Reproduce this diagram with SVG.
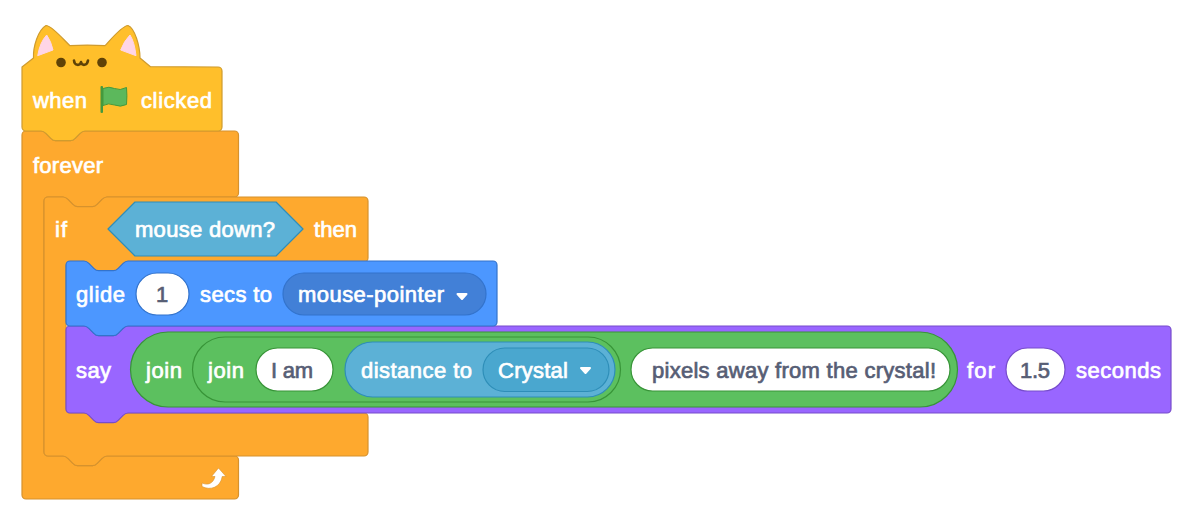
<svg xmlns="http://www.w3.org/2000/svg" width="1194" height="518" viewBox="0 0 1194 518">
<style>
text{font-family:"Liberation Sans",Arial,sans-serif;font-size:22px;fill:#fff;stroke:#fff;stroke-width:.7px;paint-order:stroke}
text.d{fill:#575e75;stroke:#575e75}
.c{fill:#fea92e;stroke:#d6922d}
.w{fill:#fff}
path,rect,polygon{stroke-width:1.2;stroke-linejoin:round}
.car{fill:#fff;stroke:#fff;stroke-width:2}
.mouth{fill:none;stroke:#5f4207;stroke-width:2.6;stroke-linecap:round}
.ear{fill:#ffd5e6;stroke:#ffd5e6;stroke-width:1}
.flag{fill:#5cb85c;stroke:#45993d;stroke-width:1}
.arrow{fill:#fff;stroke:#d6922d;stroke-width:.6}
</style>
<rect width="1194" height="518" fill="#fff" stroke="none"/>
<g id="forever">
<path class="c" d="M22 135a4 4 0 0 1 4-4H41c2.400 0 3.700 1.200 4.900 2.400l4.900 4.900c1.200 1.200 2.400 2.400 4.900 2.400h14.600c2.400 0 3.700-1.200 4.900-2.400l4.900-4.900c1.200-1.200 2.400-2.400 4.900-2.400H234.500a4 4 0 0 1 4 4V193a4 4 0 0 1-4 4H107c-2.400 0-3.700 1.200-4.900 2.400l-4.900 4.900c-1.200 1.200-2.400 2.400-4.900 2.400h-14.600c-2.400 0-3.700-1.200-4.900-2.400l-4.900-4.900c-1.200-1.200-2.400-2.400-4.900-2.400H48a4 4 0 0 0-4 4V452a4 4 0 0 0 4 4H63c2.400 0 3.700 1.200 4.900 2.400l4.900 4.900c1.200 1.200 2.400 2.400 4.900 2.400h14.600c2.400 0 3.700-1.200 4.900-2.400l4.900-4.900c1.200-1.200 2.400-2.400 4.900-2.400H234.500a4 4 0 0 1 4 4V495a4 4 0 0 1-4 4H26a4 4 0 0 1-4-4Z"/>
<text x="33" y="173" textLength="70">forever</text>
<path class="arrow" d="M202 483c5.500 2.500 11 1 13-6.500h-3.500l7-8.500 7.500 8.500h-3.800c-1.500 10.500-11.500 14.500-20.200 10Z"/>
</g>
<g id="if">
<path class="c" d="M44 201a4 4 0 0 1 4-4H63c2.400 0 3.700 1.200 4.900 2.400l4.900 4.900c1.200 1.200 2.400 2.400 4.900 2.400h14.600c2.400 0 3.700-1.200 4.900-2.400l4.900-4.900c1.200-1.200 2.400-2.400 4.900-2.400H364a4 4 0 0 1 4 4V258a4 4 0 0 1-4 4H128c-2.400 0-3.700 1.200-4.900 2.400l-4.900 4.900c-1.200 1.200-2.400 2.400-4.900 2.400h-14.600c-2.400 0-3.700-1.200-4.900-2.400l-4.900-4.900c-1.200-1.200-2.400-2.400-4.900-2.400H70a4 4 0 0 0-4 4V409a4 4 0 0 0 4 4H364a4 4 0 0 1 4 4V452a4 4 0 0 1-4 4H107c-2.400 0-3.700 1.200-4.900 2.400l-4.900 4.900c-1.200 1.200-2.400 2.400-4.900 2.400h-14.600c-2.400 0-3.700-1.200-4.900-2.400l-4.900-4.900c-1.200-1.200-2.400-2.400-4.900-2.400H48a4 4 0 0 1-4-4Z"/>
<text x="55" y="237" textLength="12">if</text>
<polygon points="108,229 135,202 276,202 303,229 276,256 135,256" fill="#5cb1d6" stroke="#2e8eb8"/>
<text x="135" y="237" textLength="140">mouse down?</text>
<text x="314" y="237" textLength="43">then</text>
</g>
<g id="say">
<path d="M66 330a4 4 0 0 1 4-4H84c2.400 0 3.700 1.200 4.900 2.400l4.900 4.900c1.200 1.200 2.400 2.400 4.900 2.400h14.600c2.400 0 3.700-1.200 4.900-2.400l4.900-4.900c1.200-1.200 2.400-2.400 4.900-2.400H1167a4 4 0 0 1 4 4V409a4 4 0 0 1-4 4H128c-2.400 0-3.700 1.200-4.900 2.400l-4.900 4.900c-1.200 1.200-2.400 2.400-4.900 2.400h-14.600c-2.400 0-3.700-1.200-4.900-2.400l-4.900-4.900c-1.200-1.200-2.400-2.400-4.900-2.400H70a4 4 0 0 1-4-4Z" fill="#9966ff" stroke="#774dcb"/>
<text x="76" y="378" textLength="35">say</text>
<rect x="130.500" y="332" width="827" height="75" rx="37.500" fill="#5cc05f" stroke="#389438"/>
<text x="146" y="378" textLength="36">join</text>
<rect x="192.500" y="337" width="428" height="65" rx="32.500" fill="#5cc05f" stroke="#389438"/>
<text x="208" y="378" textLength="36">join</text>
<rect x="256" y="348" width="77" height="43" rx="21.500" class="w" stroke="#389438"/>
<text x="271" y="378" class="d" textLength="42">I am</text>
<rect x="345" y="342" width="270" height="55" rx="27.500" fill="#5cb1d6" stroke="#2e8eb8"/>
<text x="361" y="378" textLength="111">distance to</text>
<rect x="483" y="348" width="126" height="43.500" rx="21.700" fill="#4aa7cf" stroke="#2e8eb8"/>
<text x="498" y="378" textLength="70">Crystal</text>
<polygon class="car" points="581,368 590,368 585.500,373"/>
<rect x="631" y="348" width="319" height="43" rx="21.500" class="w" stroke="#389438"/>
<text x="652" y="378" class="d" textLength="284">pixels away from the crystal!</text>
<text x="967" y="378" textLength="28">for</text>
<rect x="1006" y="348" width="59" height="43" rx="21.500" class="w" stroke="#774dcb"/>
<text x="1020" y="378" class="d" textLength="30">1.5</text>
<text x="1076" y="378" textLength="85">seconds</text>
</g>
<g id="glide">
<path d="M66 265a4 4 0 0 1 4-4H84c2.400 0 3.700 1.200 4.900 2.400l4.900 4.900c1.200 1.200 2.400 2.400 4.900 2.400h14.600c2.400 0 3.700-1.200 4.900-2.400l4.900-4.900c1.200-1.200 2.400-2.400 4.900-2.400H493a4 4 0 0 1 4 4V322a4 4 0 0 1-4 4H128c-2.400 0-3.700 1.200-4.900 2.400l-4.900 4.900c-1.200 1.200-2.400 2.400-4.900 2.400h-14.600c-2.400 0-3.700-1.200-4.900-2.400l-4.900-4.900c-1.200-1.200-2.400-2.400-4.900-2.400H70a4 4 0 0 1-4-4Z" fill="#4c97ff" stroke="#3373cc"/>
<text x="76" y="302" textLength="49">glide</text>
<rect x="136" y="273" width="53" height="42" rx="21" class="w" stroke="#3373cc"/>
<text x="156" y="302" class="d">1</text>
<text x="200" y="302" textLength="72">secs to</text>
<rect x="283" y="273" width="203" height="42" rx="21" fill="#4280d7" stroke="#3373cc"/>
<text x="298" y="302" textLength="146">mouse-pointer</text>
<polygon class="car" points="457.500,294 466.500,294 462,299"/>
</g>
<g id="when-clicked">
<path d="M22 67L33.500 58C33 47 38 30 46 25.500C51 25 62 38 70 45.700Q87 44.500 105 45.700C112 38 122 26 128 25.500C135 28 140 47 140 58L150.500 66.700L218 67a4 4 0 0 1 4 4V127a4 4 0 0 1-4 4H85c-2.400 0-3.700 1.200-4.900 2.400l-4.900 4.900c-1.200 1.200-2.400 2.400-4.900 2.400h-14.600c-2.400 0-3.700-1.200-4.900-2.400l-4.900-4.900c-1.200-1.200-2.400-2.400-4.900-2.400H26a4 4 0 0 1-4-4Z" fill="#ffbf2b" stroke="#cf9b2e"/>
<path class="ear" d="M37.700 55.700Q40 42 46.700 35Q51 41 53 50Z"/>
<path class="ear" d="M136 55.700Q134.500 42 130 35Q124 41 120.700 50Z"/>
<circle cx="61" cy="62.500" r="4.800" fill="#5f4207"/>
<circle cx="102" cy="62.500" r="4.800" fill="#5f4207"/>
<path class="mouth" d="M74 60.500c.500 5.500 6 5.500 7 1.500c1 4 6 4 7-1.500"/>
<text x="33" y="108" textLength="54">when</text>
<path class="flag" d="M103 88.500q6-2.500 11.500 0t12-1q.8 8 0 17q-6 3-12 .5t-11.500 .5Z"/>
<rect x="100.500" y="86" width="2.500" height="27" rx="1" fill="#45993d" stroke="none"/>
<text x="141" y="108" textLength="71">clicked</text>
</g>
</svg>
